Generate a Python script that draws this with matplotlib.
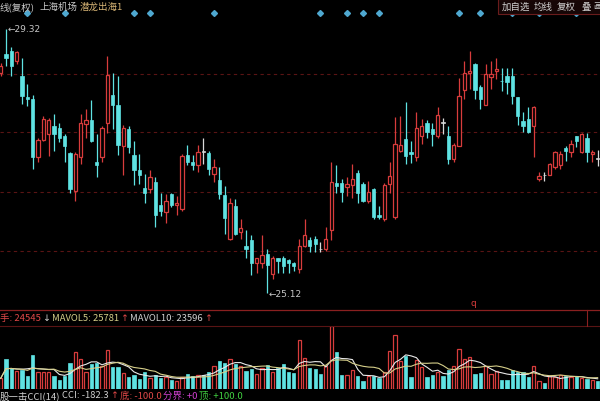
import numpy as np
import pandas as pd
import matplotlib.pyplot as plt
from matplotlib.lines import Line2D
from matplotlib.transforms import blended_transform_factory

plt.rcParams['font.family'] = ['Noto Sans CJK SC', 'DejaVu Sans']
plt.rcParams['axes.unicode_minus'] = False

# 日K数据 (开 高 低 收), 从图上读的
opens = [28.62, 28.92, 28.97, 28.81, 28.57, 28.24, 28.20, 27.28, 27.56, 27.65,
         27.77, 27.75, 27.61, 27.34, 26.75, 27.29, 27.81, 27.87, 27.21, 27.28,
         27.82, 28.27, 28.11, 27.46, 27.73, 27.31, 27.07, 26.79, 26.77, 26.88,
         26.52, 26.41, 26.70, 26.53, 26.46, 27.31, 27.21, 27.15, 27.36, 27.34,
         27.01, 26.92, 26.68, 25.99, 26.51, 26.10, 25.87, 25.96, 25.60, 25.61,
         25.75, 25.43, 25.68, 25.68, 25.65, 25.60, 25.51, 25.88, 25.97, 25.98,
         25.82, 25.82, 26.13, 26.87, 26.87, 26.80, 26.84, 27.03, 26.85, 26.59,
         26.77, 26.36, 26.30, 26.85, 26.34, 27.38, 27.57, 27.37, 27.28, 27.62,
         27.82, 27.72, 27.62, 27.82, 27.61, 27.25, 27.46, 28.35, 28.61, 28.76,
         28.40, 28.11, 28.55, 28.65, 28.49, 28.56, 28.56, 28.23, 27.86, 27.88,
         27.77, 26.94, 26.99, 27.00, 27.12, 27.15, 27.42, 27.36, 27.61, 27.36,
         27.58, 27.33, 27.25]
highs = [28.78, 29.32, 29.02, 28.97, 28.86, 28.44, 28.27, 27.59, 27.93, 27.90,
         27.96, 27.82, 27.65, 27.36, 27.36, 27.96, 28.05, 28.18, 27.65, 27.78,
         28.89, 28.61, 28.56, 27.79, 27.78, 27.54, 27.33, 27.01, 27.07, 26.96,
         26.72, 26.70, 26.72, 26.67, 27.33, 27.47, 27.31, 27.47, 27.59, 27.38,
         27.25, 27.12, 26.83, 26.64, 26.62, 26.30, 26.12, 26.05, 25.69, 26.04,
         25.82, 25.72, 25.69, 25.71, 25.66, 25.62, 25.98, 26.30, 26.01, 26.03,
         25.93, 26.18, 27.21, 27.16, 26.93, 26.96, 27.17, 27.07, 26.88, 26.91,
         26.79, 26.50, 26.87, 27.21, 27.91, 27.94, 28.16, 27.54, 28.00, 27.88,
         27.87, 27.82, 28.07, 27.90, 27.77, 27.50, 28.53, 28.81, 28.97, 28.78,
         28.42, 28.76, 28.81, 28.85, 28.70, 28.70, 28.70, 28.24, 28.00, 28.07,
         28.09, 27.05, 27.05, 27.19, 27.38, 27.38, 27.46, 27.56, 27.62, 27.66,
         27.67, 27.40, 27.40]
lows = [28.57, 28.73, 28.57, 28.76, 28.12, 28.09, 27.09, 27.20, 27.54, 27.30,
        27.38, 27.52, 27.20, 26.72, 26.59, 27.17, 27.59, 27.52, 26.96, 27.20,
        27.67, 27.73, 27.31, 26.99, 27.35, 26.84, 26.85, 26.55, 26.72, 26.17,
        26.35, 26.24, 26.49, 26.36, 26.43, 27.15, 27.07, 27.04, 27.17, 26.99,
        26.88, 26.62, 26.06, 25.96, 26.04, 25.98, 25.68, 25.41, 25.45, 25.53,
        25.12, 25.35, 25.45, 25.45, 25.45, 25.48, 25.45, 25.85, 25.77, 25.77,
        25.77, 25.80, 25.96, 26.72, 26.57, 26.67, 26.64, 26.56, 26.57, 26.56,
        26.30, 26.30, 26.27, 26.72, 26.30, 27.36, 27.17, 27.19, 27.22, 27.49,
        27.59, 27.46, 27.59, 27.65, 27.17, 27.21, 27.45, 28.20, 28.36, 28.21,
        28.05, 28.10, 28.36, 28.52, 28.33, 28.28, 28.12, 27.79, 27.68, 27.67,
        27.28, 26.91, 26.91, 26.99, 27.09, 27.09, 27.22, 27.29, 27.44, 27.35,
        27.20, 27.21, 27.14]
closes = [28.73, 28.86, 28.73, 28.94, 28.25, 28.20, 27.29, 27.56, 27.88, 27.87,
          27.65, 27.58, 27.45, 26.78, 27.33, 27.82, 27.87, 27.54, 27.16, 27.75,
          28.58, 28.11, 27.47, 27.74, 27.44, 27.07, 27.00, 26.72, 26.96, 26.36,
          26.42, 26.59, 26.53, 26.56, 27.30, 27.21, 27.15, 27.37, 27.36, 27.09,
          27.12, 26.70, 26.31, 26.55, 26.06, 26.15, 25.82, 25.61, 25.68, 25.73,
          25.57, 25.69, 25.64, 25.56, 25.61, 25.55, 25.88, 26.05, 25.88, 25.90,
          25.82, 25.99, 26.89, 26.83, 26.73, 26.85, 26.94, 26.72, 26.59, 26.73,
          26.34, 26.34, 26.84, 26.98, 27.49, 27.47, 27.30, 27.33, 27.75, 27.77,
          27.68, 27.65, 27.95, 27.82, 27.25, 27.47, 28.25, 28.62, 28.65, 28.35,
          28.21, 28.60, 28.60, 28.68, 28.48, 28.47, 28.25, 27.94, 27.77, 27.68,
          28.07, 26.98, 26.99, 27.17, 27.37, 27.33, 27.38, 27.49, 27.54, 27.65,
          27.36, 27.36, 27.25]
# 成交量(手)
volume = [32000, 90000, 63000, 55000, 57000, 38000, 102000, 52000, 50000, 50000,
          38000, 28000, 38000, 78000, 112000, 90000, 52000, 75000, 78000, 68000,
          117000, 65000, 67000, 48000, 35000, 42000, 30000, 52000, 32000, 42000,
          32000, 35000, 28000, 25000, 35000, 45000, 38000, 42000, 42000, 50000,
          68000, 85000, 78000, 90000, 75000, 68000, 55000, 60000, 45000, 62000,
          72000, 52000, 62000, 75000, 50000, 48000, 148000, 92000, 63000, 60000,
          45000, 70000, 188000, 112000, 42000, 42000, 57000, 40000, 25000, 38000,
          38000, 33000, 50000, 115000, 162000, 85000, 100000, 35000, 88000, 67000,
          35000, 42000, 50000, 40000, 57000, 70000, 120000, 90000, 95000, 45000,
          47000, 68000, 45000, 55000, 28000, 28000, 57000, 52000, 50000, 35000,
          68000, 25000, 18000, 38000, 35000, 42000, 38000, 35000, 38000, 32000,
          30000, 28000, 25000]
# 信息地雷(菱形)所在的K线
mine_idx = [5, 12, 25, 28, 40, 60, 65, 68, 71, 86, 90, 96, 101, 108]
grid_levels = [28.60, 27.68, 26.73, 25.79]

RED = '#d83c3c'
CYAN = '#5fe3e3'
WHITE = '#d8d8d8'
GRID = '#5a1414'

df = pd.DataFrame({'open': opens, 'high': highs, 'low': lows, 'close': closes, 'vol': volume})
x = np.arange(len(df))
up = df['close'] > df['open']
down = df['close'] < df['open']
flat = df['close'] == df['open']
colors = np.where(up, RED, np.where(down, CYAN, WHITE))

fig = plt.figure(figsize=(6.0, 4.02), dpi=100, facecolor='black')
ax = fig.add_axes([0, 91 / 402, 1, 295 / 402], facecolor='black')
axv = fig.add_axes([0, 12 / 402, 1, 63 / 402], facecolor='black')

for a in (ax, axv):
    for s in a.spines.values():
        s.set_visible(False)
    a.set_xticks([])
    a.set_yticks([])
    a.set_xlim(-0.13, 112.44)

ax.set_ylim(24.858, 29.534)
axv.set_ylim(0, 189000)

for lv in grid_levels:
    ax.axhline(lv, color=GRID, lw=0.8, ls=(0, (3, 3)), zorder=0)

# 影线
ax.vlines(x, df['low'], df['high'], colors=colors, lw=0.9, zorder=1)
# 实体
body_lo = np.minimum(df['open'], df['close'])
body_h = np.maximum((df['close'] - df['open']).abs(), 0.012)
ax.bar(x[up], body_h[up], bottom=body_lo[up], width=0.62,
       facecolor='black', edgecolor=RED, lw=0.9, zorder=2)
ax.bar(x[down], body_h[down], bottom=body_lo[down], width=0.62,
       facecolor=CYAN, edgecolor=CYAN, lw=0.5, zorder=2)
ax.bar(x[flat], body_h[flat], bottom=body_lo[flat], width=0.62,
       facecolor=WHITE, edgecolor=WHITE, lw=0.5, zorder=2)

# 最高 最低
hi_i = int(df['high'].idxmax())
lo_i = int(df['low'].idxmin())
ax.text(hi_i + 0.3, df['high'][hi_i], '←%.2f' % df['high'][hi_i], color='#c8c8c8',
        fontsize=6.5, va='center', ha='left', family='DejaVu Sans')
ax.text(lo_i + 0.3, df['low'][lo_i], '←%.2f' % df['low'][lo_i], color='#c8c8c8',
        fontsize=6.5, va='center', ha='left', family='DejaVu Sans')
ax.text(88.6, 24.97, 'q', color=RED, fontsize=6.5, ha='center', va='center',
        family='DejaVu Sans')

trans = blended_transform_factory(ax.transData, ax.transAxes)
ax.plot(mine_idx, [1.007] * len(mine_idx), 'D', ms=3, color='#4fa8d0',
        transform=trans, clip_on=False)

# 成交量
axv.bar(x[up], df['vol'][up], width=0.62, facecolor='black', edgecolor=RED, lw=0.9)
axv.bar(x[~up], df['vol'][~up], width=0.62, facecolor=CYAN, edgecolor=CYAN, lw=0.5)
ma5 = df['vol'].rolling(5, min_periods=1).mean()
ma10 = df['vol'].rolling(10, min_periods=1).mean()
axv.plot(x, ma5, color='#e8e8e8', lw=0.8)
axv.plot(x, ma10, color='#d6cf8a', lw=0.8)

# 分隔线
fig.add_artist(Line2D([0, 1], [91 / 402, 91 / 402], color='#8a2020', lw=0.9))
fig.add_artist(Line2D([0, 1], [75 / 402, 75 / 402], color='#5a1414', lw=0.8))
fig.add_artist(Line2D([587 / 600, 587 / 600], [75 / 402, 91 / 402], color='#8a2020', lw=0.8))

renderer = fig.canvas.get_renderer()

def ftext(px, py, s, c, fs=6.5, fam=None):
    kw = {} if fam is None else {'family': fam}
    return fig.text(px / 600, 1 - py / 402, s, color=c, fontsize=fs,
                    ha='left', va='center', **kw)

def chain(px, py, parts, fs):
    # 一段接一段排文字, 颜色不同
    for s, c, fam in parts:
        t = ftext(px, py, s, c, fs, fam)
        px = t.get_window_extent(renderer).x1 + 1.5

# 顶部标题
ftext(0, 7, '线(复权)', '#c8c8c8', 6.8)
ftext(40, 7, '上海机场', '#c8c8c8', 6.8)
ftext(80, 7, '潜龙出海1', '#d9b676', 6.8)
fig.patches.append(plt.Rectangle((498 / 600, 1 - 15 / 402), 110 / 600, 15 / 402,
                                 transform=fig.transFigure, facecolor='#160606',
                                 edgecolor='#6a1c1c', lw=0.8))
ftext(502, 7, '加自选', '#d0d0d0', 6.8)
ftext(534, 7, '均线', '#d0d0d0', 6.8)
ftext(557, 7, '复权', '#d0d0d0', 6.8)
ftext(581, 7, '叠', '#d0d0d0', 6.8)
ftext(593, 7, '画', '#d0d0d0', 6.0)

# 成交量标题
chain(0, 319, [('手: 24545', '#e04848', None), ('↓', '#d0d0d0', 'DejaVu Sans'),
               ('MAVOL5: 25781', '#d6cf8a', None), ('↑', '#e04848', 'DejaVu Sans'),
               ('MAVOL10: 23596', '#d0d0d0', None), ('↑', '#e04848', 'DejaVu Sans')], 6.8)

# 底部指标
chain(0, 396, [('股一击CCI(14)', '#d0d0d0', None), ('CCI: -182.3', '#d0d0d0', None),
               ('↑', '#e04848', 'DejaVu Sans'), ('底: -100.0', '#e04848', None),
               ('分界: +0', '#d040d0', None), ('顶: +100.0', '#40d040', None)], 6.8)

plt.savefig('out.png', dpi=100, facecolor='black')
